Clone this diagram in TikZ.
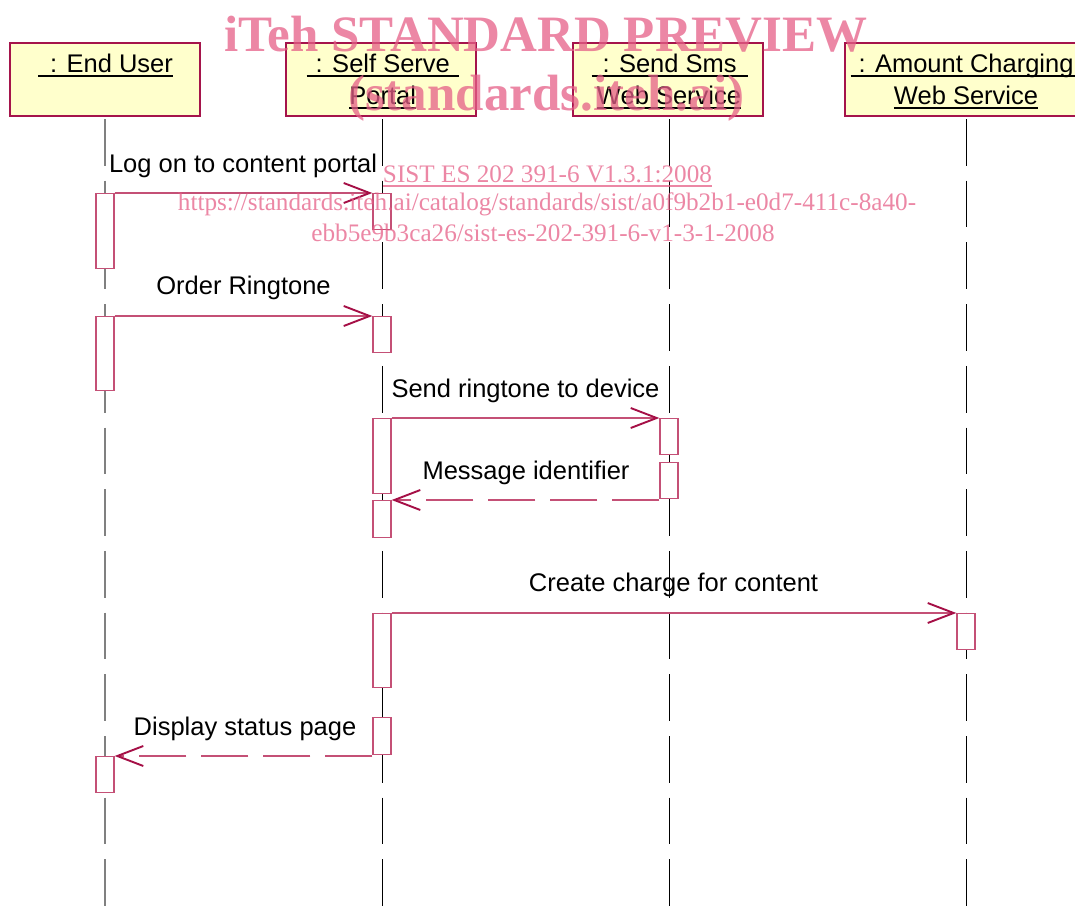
\documentclass[tikz,border=0pt]{standalone}
\usepackage{fontspec}
\setmainfont{Liberation Sans}
\newfontfamily\wmfont{Liberation Serif}
\usetikzlibrary{arrows.meta}
\definecolor{boxred}{RGB}{165,20,75}
\definecolor{msgred}{RGB}{196,80,118}
\definecolor{tipred}{RGB}{165,15,70}
\definecolor{boxfill}{RGB}{255,255,204}
\definecolor{wmpink}{RGB}{229,95,135}
\newcommand{\ulx}[1]{\setbox0\hbox{#1}\rlap{\rule[-4.6pt]{\wd0}{1.8pt}}\box0}
\tikzset{
  hdr/.style={draw=boxred, fill=boxfill, line width=1.3pt, inner sep=0pt, minimum height=73pt},
  htxt/.style={anchor=base, inner sep=0pt, font=\fontsize{25.5}{30}\selectfont},
  lbl/.style={anchor=base, inner sep=0pt, font=\fontsize{25.5}{30}\selectfont},
  lifeline/.style={draw=black, line width=1pt, dash pattern=on 46.7pt off 15pt},
  act/.style={draw=msgred, fill=white, line width=1.3pt, minimum width=18pt, inner sep=0pt, anchor=north},
  msg/.style={draw=msgred, line width=1.4pt, -{Straight Barb[length=26pt,width=20pt,line width=1.9pt,color=tipred]}},
  ret/.style={msg, dash pattern=on 47pt off 15pt},
  wm/.style={text=wmpink, opacity=0.75, inner sep=0pt, anchor=base}
}
\begin{document}
\begin{tikzpicture}[x=1pt,y=-1pt]
\useasboundingbox (0,0) rectangle (1075,918);
% header boxes
\node[hdr, minimum width=190pt] (eu) at (105,79.5) {};
\node[hdr, minimum width=190pt] (ss) at (381,79.5) {};
\node[hdr, minimum width=190pt] (sms) at (668,79.5) {};
\node[hdr, minimum width=242pt] (amt) at (966,79.5) {};
\node[htxt] (eut) at (105.5,72.3) {\ulx{\hspace{12pt}: End User}};
\node[htxt] (sst1) at (382.8,72.3) {\ulx{\hspace{9pt}: Self Serve\hspace{9pt}}};
\node[htxt] (sst2) at (382.7,104.3) {\ulx{Portal}};
\node[htxt] (smst1) at (669.6,72.3) {\ulx{\hspace{11pt}: Send Sms\hspace{11pt}}};
\node[htxt] (smst2) at (669,104.3) {\ulx{Web Service}};
\node[htxt] (amtt1) at (966,72.3) {\ulx{\hspace{8pt}: Amount Charging\hspace{8pt}}};
\node[htxt] (amtt2) at (966,104.3) {\ulx{Web Service}};
% lifelines
\coordinate (eub) at (105,918);
\coordinate (ssb) at (382,918);
\coordinate (smsb) at (669,918);
\coordinate (amtb) at (966,918);
\draw[lifeline, draw=gray, line width=2pt] (105,119) -- (eub);
\draw[lifeline] (382,119) -- (ssb);
\draw[lifeline] (669,119) -- (smsb);
\draw[lifeline] (966,119) -- (amtb);
% activations
\node[act, minimum height=75pt] (eu1) at (105,193) {};
\node[act, minimum height=74pt] (eu2) at (105,316) {};
\node[act, minimum height=36pt] (eu3) at (105,756) {};
\node[act, minimum height=36pt] (ss1) at (382,193) {};
\node[act, minimum height=36pt] (ss2) at (382,316) {};
\node[act, minimum height=75pt] (ss3) at (382,418) {};
\node[act, minimum height=37pt] (ss4) at (382,500) {};
\node[act, minimum height=74pt] (ss5) at (382,613) {};
\node[act, minimum height=37pt] (ss6) at (382,717) {};
\node[act, minimum height=36pt] (sm1) at (669,418) {};
\node[act, minimum height=36pt] (sm2) at (669,462) {};
\node[act, minimum height=36pt] (am1) at (966,613) {};
% messages
\draw[msg] (eu1.north east) -- (ss1.north west);
\draw[msg] (eu2.north east) -- (ss2.north west);
\draw[msg] (ss3.north east) -- (sm1.north west);
\draw[ret] (ss4.north east -| sm2.west) -- (ss4.north east);
\draw[msg] (ss5.north east) -- (am1.north west);
\draw[ret] (eu3.north east -| ss6.west) -- (eu3.north east);
% labels
\node[lbl] (l1) at (243,172.7) {Log on to content portal};
\node[lbl] (l2) at (243.5,294) {Order Ringtone};
\node[lbl] (l3) at (525.5,397) {Send ringtone to device};
\node[lbl] (l4) at (526,479) {Message identifier};
\node[lbl] (l5) at (673.5,591.7) {Create charge for content};
\node[lbl] (l6) at (245,735.7) {Display status page};
% watermark
\node[wm, font=\wmfont\bfseries\fontsize{51}{51}\selectfont] (wm1) at (546,51) {iTeh STANDARD PREVIEW};
\node[wm, font=\wmfont\bfseries\fontsize{51}{51}\selectfont] (wm2) at (546.5,110) {(standards.iteh.ai)};
\node[wm, font=\wmfont\fontsize{25.2}{30}\selectfont] (wm3) at (547.5,182) {\ulx{SIST ES 202 391-6 V1.3.1:2008}};
\node[wm, font=\wmfont\fontsize{25.2}{30}\selectfont] (wm4) at (547,210) {https://standards.iteh.ai/catalog/standards/sist/a0f9b2b1-e0d7-411c-8a40-};
\node[wm, font=\wmfont\fontsize{25.2}{30}\selectfont] (wm5) at (543,241) {ebb5e9b3ca26/sist-es-202-391-6-v1-3-1-2008};
\end{tikzpicture}
\end{document}
